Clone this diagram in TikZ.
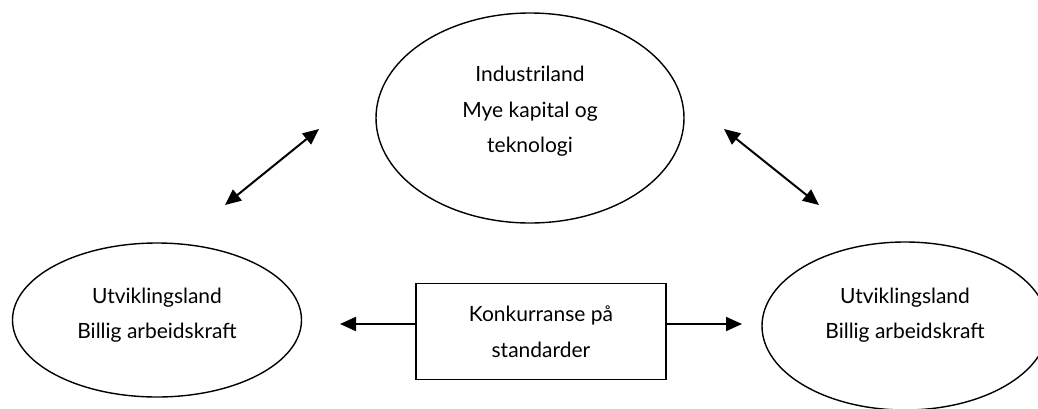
\documentclass[tikz,border=0pt]{standalone}
\usepackage{fontspec}
\setmainfont{Lato}
\usetikzlibrary{shapes.geometric,arrows.meta}
\tikzset{
  land/.style={draw,ellipse,line width=1.4pt,inner sep=0pt,align=center,font=\fontsize{21}{35.5}\selectfont},
  konkbox/.style={draw,rectangle,line width=1.4pt,minimum width=250pt,minimum height=96pt,align=center,font=\fontsize{21}{35.5}\selectfont},
  pil/.style={line width=2pt,-{Triangle[length=16pt,width=14pt]}},
  dobbelpil/.style={line width=2pt,{Triangle[length=16pt,width=14pt]}-{Triangle[length=16pt,width=14pt]}}
}
\begin{document}
\begin{tikzpicture}[x=1pt,y=-1pt]
\useasboundingbox (0,0) rectangle (1038,408);
\node[land,minimum width=308pt,minimum height=210pt,text depth=17pt] (ind) at (530,118) {Industriland\\Mye kapital og\\teknologi};
\node[land,minimum width=289pt,minimum height=154pt,text depth=13pt] (uvv) at (157,320) {Utviklingsland\\Billig arbeidskraft};
\node[land,minimum width=286pt,minimum height=168pt,text depth=25pt] (uvh) at (905,326) {Utviklingsland\\Billig arbeidskraft};
\node[konkbox] (konk) at (541,331.5) {Konkurranse på\\standarder};
% frie pilspisser
\coordinate (vnede) at (225,205);
\coordinate (voppe) at (319,129);
\coordinate (hoppe) at (724,129);
\coordinate (hnede) at (819,205);
\coordinate (vtupp) at (340,324);
\coordinate (htupp) at (742,324);
\draw[dobbelpil] (vnede) -- (voppe);
\draw[dobbelpil] (hoppe) -- (hnede);
\draw[pil] (konk.west |- vtupp) -- (vtupp);
\draw[pil] (konk.east |- htupp) -- (htupp);
\end{tikzpicture}
\end{document}
